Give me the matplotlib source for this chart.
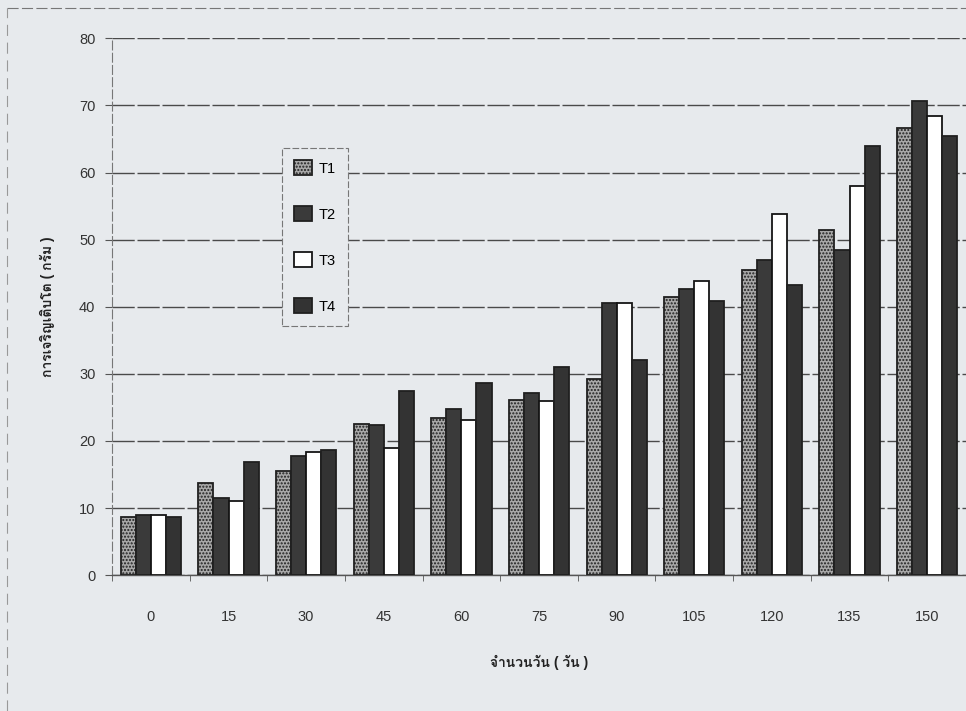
import numpy as np
import matplotlib.pyplot as plt
from matplotlib import font_manager
from matplotlib.ft2font import FT2Font
from matplotlib.lines import Line2D

# find a font that has Thai glyphs
thai_font = None
for f in font_manager.fontManager.ttflist:
    try:
        if 0x0E01 in FT2Font(f.fname).get_charmap():
            thai_font = f.name
            break
    except Exception:
        pass
fams = ['Liberation Sans', 'DejaVu Sans']
if thai_font:
    fams = ['Liberation Sans', thai_font, 'DejaVu Sans']
plt.rcParams['font.family'] = fams

days = ['0', '15', '30', '45', '60', '75', '90', '105', '120', '135', '150']
t1 = [8.7, 13.7, 15.5, 22.5, 23.5, 26.1, 29.3, 41.5, 45.5, 51.5, 66.6]
t2 = [8.9, 11.5, 17.8, 22.4, 24.7, 27.2, 40.5, 42.7, 46.9, 48.5, 70.7]
t3 = [9.0, 11.1, 18.3, 19.0, 23.1, 26.0, 40.5, 43.9, 53.9, 58.0, 68.5]
t4 = [8.7, 16.9, 18.6, 27.4, 28.7, 31.0, 32.0, 40.8, 43.2, 64.0, 65.5]
names = ['T1', 'T2', 'T3', 'T4']

bg = '#e7eaed'
fig = plt.figure(figsize=(9.66, 7.11), dpi=100, facecolor=bg)
ax = fig.add_axes([0.116, 0.191, 0.884, 0.755], facecolor=bg)

x = np.arange(len(days))
w = 0.194
styles = [dict(color='#a8a8a8', edgecolor='#202020', hatch='.....'),
          dict(color='#3a3a3a', edgecolor='#202020'),
          dict(color='#ffffff', edgecolor='#151515'),
          dict(color='#333333', edgecolor='#202020')]
plt.rcParams['hatch.color'] = '#6a6a6a'
plt.rcParams['hatch.linewidth'] = 1.0
for i, (vals, st) in enumerate(zip([t1, t2, t3, t4], styles)):
    ax.bar(x + (i - 1.5) * w, vals, w, label=names[i], linewidth=1.3, zorder=3, **st)

ax.set_xlim(-0.5, len(days) - 0.5)
ax.set_ylim(0, 80)
ax.set_yticks(range(0, 81, 10))
ax.yaxis.grid(True, color='#4a4a4a', linewidth=1.0, linestyle=(0, (16, 2)), zorder=0)
ax.set_xticks(x)
ax.set_xticklabels(days)
ax.set_xticks(np.arange(-0.5, len(days), 1), minor=True)
ax.tick_params(axis='x', which='major', length=0, pad=25, labelsize=10.5, labelcolor='#333333')
ax.tick_params(axis='x', which='minor', length=4, color='#555555')
ax.tick_params(axis='y', length=5, color='#555555', pad=7, labelsize=10.5, labelcolor='#333333')

for s in ['top', 'right']:
    ax.spines[s].set_visible(False)
ax.spines['left'].set_color('#777777')
ax.spines['left'].set_linestyle((0, (8, 3)))
ax.spines['left'].set_linewidth(0.8)
ax.spines['bottom'].set_color('#555555')
ax.spines['bottom'].set_linewidth(1.0)

ax.set_ylabel('การเจริญเติบโต ( กรัม )', fontsize=10, fontweight='bold', color='#222222', labelpad=17)
ax.set_xlabel('จำนวนวัน ( วัน )', fontsize=10, fontweight='bold', color='#222222', labelpad=22)

leg = ax.legend(loc='upper left', bbox_to_anchor=(0.292, 0.792), bbox_transform=fig.transFigure,
                frameon=True, fancybox=False, edgecolor='#777777', facecolor=bg,
                fontsize=10.5, labelspacing=2.1, handlelength=1.2, handleheight=1.2,
                handletextpad=0.45, borderpad=0.85, borderaxespad=0, framealpha=1)
leg.get_frame().set_linewidth(0.8)
leg.get_frame().set_linestyle((0, (6, 2)))

# scanned page frame
fig.add_artist(Line2D([0.007, 1.0], [0.989, 0.989], color='#777777', linewidth=0.8,
                      linestyle=(0, (10, 3)), transform=fig.transFigure))
fig.add_artist(Line2D([0.007, 0.007], [0.0, 0.989], color='#999999', linewidth=0.8,
                      linestyle=(0, (10, 6)), transform=fig.transFigure))

fig.savefig('out.png', dpi=100, facecolor=bg)
